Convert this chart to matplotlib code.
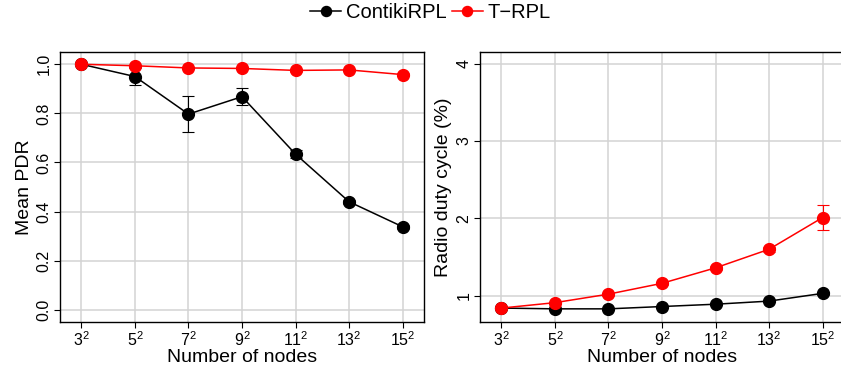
import numpy as np
import matplotlib
matplotlib.use("Agg")
import matplotlib.pyplot as plt

plt.rcParams['font.family'] = ['Liberation Sans', 'DejaVu Sans']
plt.rcParams['mathtext.fontset'] = 'custom'
plt.rcParams['mathtext.rm'] = 'Liberation Sans'
plt.rcParams['mathtext.it'] = 'Liberation Sans'

nodes = ["$3^2$", "$5^2$", "$7^2$", "$9^2$", "$11^2$", "$13^2$", "$15^2$"]

pdr_contiki = [1.0, 0.95, 0.797, 0.868, 0.634, 0.44, 0.338]
pdr_contiki_err = [0.003, 0.033, 0.074, 0.034, 0.016, 0.008, 0.008]
pdr_trpl = [1.0, 0.994, 0.985, 0.983, 0.975, 0.977, 0.958]
pdr_trpl_err = [0.002, 0.004, 0.004, 0.004, 0.005, 0.005, 0.006]

duty_contiki = [0.84, 0.83, 0.83, 0.86, 0.89, 0.93, 1.03]
duty_contiki_err = [0.01, 0.01, 0.01, 0.01, 0.01, 0.01, 0.02]
duty_trpl = [0.84, 0.91, 1.02, 1.16, 1.36, 1.60, 2.01]
duty_trpl_err = [0.01, 0.01, 0.02, 0.02, 0.03, 0.03, 0.16]

x = np.arange(len(nodes))

fig = plt.figure(figsize=(8.41, 3.74), dpi=100)
ax1 = fig.add_axes([60/841, 52/374, 364/841, 270/374])
ax2 = fig.add_axes([480/841, 52/374, 364/841, 270/374])


def draw(ax, c, ce, t, te, ylabel, ylim, yticks, yticklabels):
    ax.errorbar(x, c, yerr=ce, color="black", marker="o", markersize=8.5,
                linewidth=1.1, capsize=4, elinewidth=0.8, capthick=0.8,
                label="ContikiRPL", zorder=3)
    ax.errorbar(x, t, yerr=te, color="red", marker="o", markersize=8.5,
                linewidth=1.1, capsize=4, elinewidth=0.8, capthick=0.8,
                label="T\u2212RPL", zorder=4)
    ax.set_xlim(-0.4, 6.4)
    ax.set_ylim(*ylim)
    ax.set_xticks(x)
    ax.set_xticklabels(nodes, fontsize=11.5)
    ax.set_yticks(yticks)
    ax.set_yticklabels(yticklabels, rotation=90, va="center", fontsize=11.5)
    ax.grid(True, color="#d3d3d3", linewidth=1.1)
    ax.set_axisbelow(True)
    ax.tick_params(length=4, width=0.8, pad=2)
    for s in ax.spines.values():
        s.set_linewidth(1.0)
    ax.set_xlabel("Number of nodes", fontsize=14, labelpad=0)
    ax.set_ylabel(ylabel, fontsize=14, labelpad=3)


draw(ax1, pdr_contiki, pdr_contiki_err, pdr_trpl, pdr_trpl_err, "Mean PDR",
     (-0.05, 1.05), [0, 0.2, 0.4, 0.6, 0.8, 1.0],
     ["0.0", "0.2", "0.4", "0.6", "0.8", "1.0"])
draw(ax2, duty_contiki, duty_contiki_err, duty_trpl, duty_trpl_err,
     "Radio duty cycle (%)", (0.66, 4.15), [1, 2, 3, 4], ["1", "2", "3", "4"])

handles, labels = ax1.get_legend_handles_labels()
handles = [h[0] for h in handles]
fig.legend(handles, labels, loc="upper center", ncol=2, frameon=False,
           fontsize=14.5, bbox_to_anchor=(0.512, 1.04), handlelength=1.5,
           handletextpad=0.25, columnspacing=0.3, markerscale=0.85)

fig.savefig("out.png", dpi=100)
